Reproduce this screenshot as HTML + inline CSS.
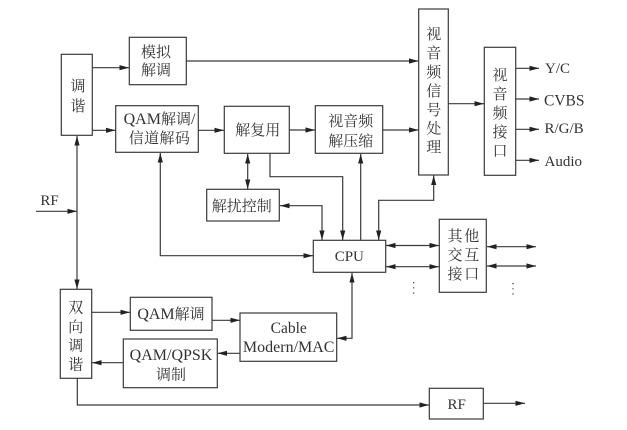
<!DOCTYPE html>
<html>
<head>
<meta charset="utf-8">
<style>
html,body{margin:0;padding:0;background:#fff;width:627px;height:430px;overflow:hidden}
svg{display:block}
text{font-family:"Liberation Serif","Noto Serif CJK SC",serif;font-size:15px;fill:#333;text-anchor:middle}
.w{font-size:16px}
.w tspan{font-size:15px}
.b{fill:#fff;stroke:#3a3a3a;stroke-width:1.2}
.l{fill:none;stroke:#3a3a3a;stroke-width:1.2}
.a{marker-end:url(#h)}
.d{marker-start:url(#h);marker-end:url(#h)}
</style>
</head>
<body>
<svg width="627" height="430" viewBox="0 0 627 430" xmlns="http://www.w3.org/2000/svg">
<defs>
<marker id="h" markerUnits="userSpaceOnUse" markerWidth="11" markerHeight="8" refX="10" refY="4" orient="auto-start-reverse">
<path d="M0.5 1.4 L10 4 L0.5 6.6 Z" fill="#222"/>
</marker>
</defs>

<!-- connectors -->
<path class="l a" d="M92 67.7H129"/>
<path class="l a" d="M92 130.3H115.5"/>
<path class="l a" d="M198 130.3H224"/>
<path class="l a" d="M289 130H315"/>
<path class="l a" d="M382.5 130H418.5"/>
<path class="l a" d="M186 61H418.5"/>
<path class="l a" d="M448 103.7H484"/>
<path class="l a" d="M515.5 68.3H539"/>
<path class="l a" d="M515.5 99H539"/>
<path class="l a" d="M515.5 129.3H539"/>
<path class="l a" d="M515.5 160.3H539"/>
<path class="l a" d="M16 211.3H77" stroke-dasharray="0" style="stroke-dashoffset:0" transform="translate(0,0)" visibility="hidden"/>
<path class="l a" d="M36 211.3H77"/>
<path class="l d" d="M77 136V289"/>
<path class="l d" d="M160.3 153V255.7H313"/>
<path class="l d" d="M247.7 154V189"/>
<path class="l a" d="M270 153V176.7H342.7V240"/>
<path class="l d" d="M280 205.7H322V240"/>
<path class="l a" d="M360.7 240V154"/>
<path class="l d" d="M378.7 240V200.3H433.7V175.5"/>
<path class="l d" d="M386 245.5H439"/>
<path class="l d" d="M386 266.7H439"/>
<path class="l d" d="M487 246.7H536"/>
<path class="l d" d="M487 266H536"/>
<path class="l d" d="M352 273V338.3H337"/>
<path class="l a" d="M92 312.3H130"/>
<path class="l a" d="M212 320.3H240"/>
<path class="l a" d="M240 353.3H217.5"/>
<path class="l a" d="M123 362.7H92"/>
<path class="l a" d="M77.3 378.5V405H429"/>
<path class="l a" d="M483.5 403.3H525"/>
<path d="M413.7 282V294" fill="none" stroke="#333" stroke-width="1.2" stroke-dasharray="1.2 4"/>
<path d="M513 283V295" fill="none" stroke="#333" stroke-width="1.2" stroke-dasharray="1.2 4"/>

<!-- boxes -->
<rect class="b" x="61.3" y="54.3" width="31" height="81"/>
<rect class="b" x="129.3" y="37.3" width="57" height="47.4"/>
<rect class="b" x="115.7" y="105.7" width="82.6" height="46.6"/>
<rect class="b" x="224.3" y="106.3" width="65" height="47"/>
<rect class="b" x="315.3" y="105.7" width="67.4" height="47.6"/>
<rect class="b" x="206.7" y="189.3" width="72.6" height="31.7"/>
<rect class="b" x="418.7" y="9" width="29.6" height="166"/>
<rect class="b" x="484.3" y="47.3" width="31.4" height="128"/>
<rect class="b" x="313.3" y="240.3" width="72.4" height="32"/>
<rect class="b" x="439.3" y="219.3" width="47" height="73"/>
<rect class="b" x="429.3" y="388.3" width="54" height="30.7"/>
<rect class="b" x="240" y="313" width="96.7" height="48.3"/>
<rect class="b" x="130.3" y="297.3" width="81.7" height="33"/>
<rect class="b" x="123.3" y="339" width="94" height="48.7"/>
<rect class="b" x="60.3" y="289.3" width="31.4" height="89"/>

<!-- labels -->
<text x="78" y="91">调</text>
<text x="78" y="111">谐</text>
<text x="156" y="57">模拟</text>
<text x="156" y="75">解调</text>
<text class="w" x="159.5" y="124">QAM<tspan>解调</tspan>/</text>
<text x="159.5" y="143" letter-spacing="0.4">信道解码</text>
<text x="257.7" y="135">解复用</text>
<text x="350.7" y="126">视音频</text>
<text x="350.7" y="146">解压缩</text>
<text x="241.7" y="211">解扰控制</text>
<text x="433.7" y="39">视</text>
<text x="433.7" y="58">音</text>
<text x="433.7" y="77">频</text>
<text x="433.7" y="96">信</text>
<text x="433.7" y="115">号</text>
<text x="433.7" y="133.5">处</text>
<text x="433.7" y="152">理</text>
<text x="500" y="80">视</text>
<text x="500" y="99">音</text>
<text x="500" y="118">频</text>
<text x="500" y="137">接</text>
<text x="500" y="156">口</text>
<text x="545" y="73" style="text-anchor:start">Y/C</text>
<text x="544" y="105.5" style="text-anchor:start;font-size:15.5px">CVBS</text>
<text x="544.5" y="133" style="text-anchor:start">R/G/B</text>
<text x="544.5" y="166" style="text-anchor:start">Audio</text>
<text x="49.5" y="205">RF</text>
<text x="455" y="241">其</text>
<text x="471.7" y="241">他</text>
<text x="455" y="260">交</text>
<text x="471.7" y="260">互</text>
<text x="455" y="279">接</text>
<text x="471.7" y="279">口</text>
<text x="349.3" y="261">CPU</text>
<text class="w" x="171" y="319">QAM<tspan>解调</tspan></text>
<text class="w" x="171" y="360">QAM/QPSK</text>
<text x="171" y="379.5">调制</text>
<text x="288.7" y="333" style="font-size:15.5px">Cable</text>
<text class="w" x="288.7" y="352">Modern/MAC</text>
<text x="456.7" y="409">RF</text>
<text x="75.7" y="312.5">双</text>
<text x="75.7" y="332">向</text>
<text x="75.7" y="350.5">调</text>
<text x="75.7" y="369.5">谐</text>
</svg>
</body>
</html>
